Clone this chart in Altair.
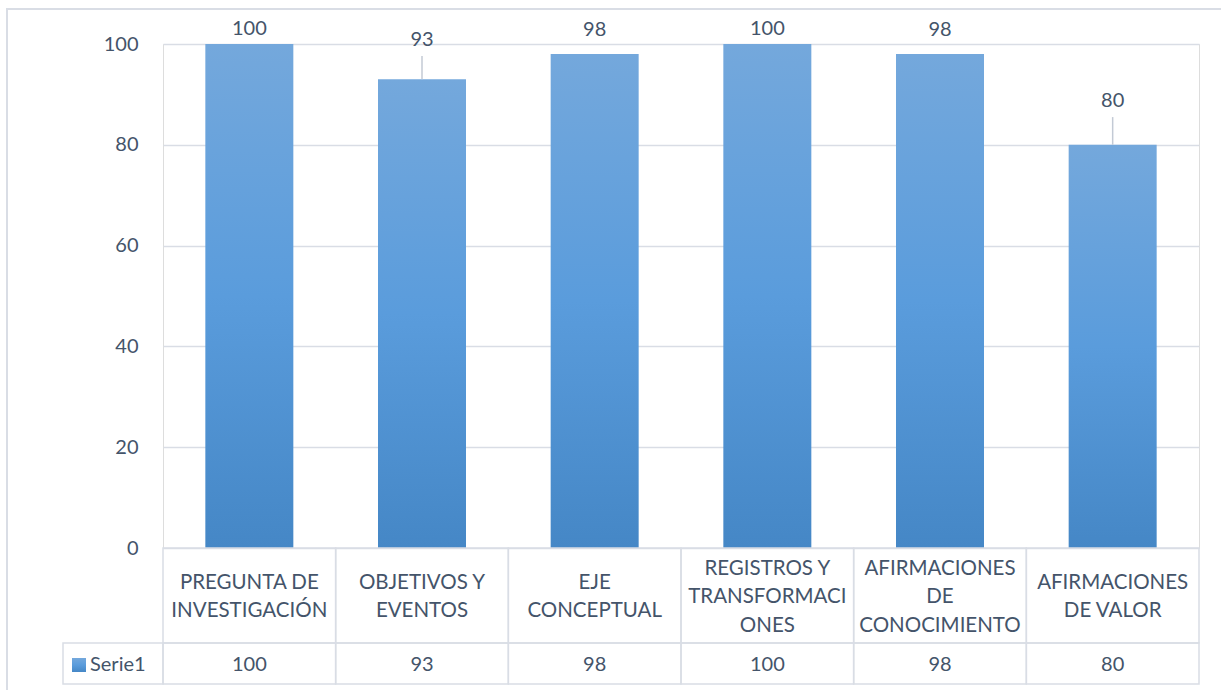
import altair as alt
import pandas as pd

# Chart values
categories = [
    "PREGUNTA DE\nINVESTIGACIÓN",
    "OBJETIVOS Y\nEVENTOS",
    "EJE\nCONCEPTUAL",
    "REGISTROS Y\nTRANSFORMACI\nONES",
    "AFIRMACIONES\nDE\nCONOCIMIENTO",
    "AFIRMACIONES\nDE VALOR",
]
values = [100, 93, 98, 100, 98, 80]
series_name = "Serie1"

# Layout: how far (in axis units) each data label sits above its bar
label_lift = [3.0, 7.8, 4.8, 3.0, 4.8, 8.7]

df = pd.DataFrame({
    "cat": categories,
    "value": values,
    "lift": label_lift,
})

W, H = 1036, 504
STEP = W / len(categories)
BAR_W = 88
FONT = "Lato"
TEXT = "#44546a"
LINE = "#d9dde5"
HEAD_MID = H + 49      # vertical centre of the header row
HEAD_LH = 28.5         # header line height

bar_fill = alt.Gradient(
    gradient="linear",
    stops=[
        alt.GradientStop(color="#74a8dc", offset=0),
        alt.GradientStop(color="#5a9cdc", offset=0.5),
        alt.GradientStop(color="#4587c6", offset=1),
    ],
    x1=0, x2=0, y1=0, y2=1,
)

pin = 1 - BAR_W / STEP
x_enc = alt.X(
    "cat:N",
    sort=categories,
    scale=alt.Scale(paddingInner=pin, paddingOuter=pin / 2),
    axis=None,
)
y_scale = alt.Scale(domain=[0, 100], nice=False)

base = alt.Chart(df)

# outer frame of the chart area
frame = base.mark_rect(fill=None, stroke=LINE, strokeWidth=1.5).encode(
    x=alt.value(-156), x2=alt.value(W + 80),
    y=alt.value(-35), y2=alt.value(H + 200),
)

bars = base.mark_bar(color=bar_fill).encode(
    x=x_enc,
    y=alt.Y(
        "value:Q",
        scale=y_scale,
        axis=alt.Axis(
            values=[0, 20, 40, 60, 80, 100],
            title=None,
            domain=False,
            ticks=False,
            labelPadding=25,
            labelFont=FONT,
            labelFontSize=20,
            labelColor=TEXT,
            gridColor=LINE,
            gridWidth=1.5,
        ),
    ),
)

# data table: header row with category names
head_cells = base.mark_bar(width=STEP, fill="white", fillOpacity=0,
                           stroke=LINE, strokeWidth=1.5).encode(
    x=x_enc, y=alt.value(H), y2=alt.value(H + 95),
)
head_text = base.transform_calculate(
    nlines="length(split(datum.cat, '\\n'))"
).transform_calculate(
    ty=f"{HEAD_MID} - (datum.nlines - 1) * {HEAD_LH / 2}"
).mark_text(lineBreak="\n", baseline="middle", font=FONT,
            fontSize=20.5, color=TEXT, lineHeight=HEAD_LH).encode(
    x=x_enc, y=alt.Y("ty:Q", scale=None), text="cat:N",
)

# data table: value row
val_cells = base.mark_bar(width=STEP, fill="white", fillOpacity=0,
                          stroke=LINE, strokeWidth=1.5).encode(
    x=x_enc, y=alt.value(H + 95), y2=alt.value(H + 136),
)
val_text = base.mark_text(baseline="middle", font=FONT, fontSize=20,
                          color=TEXT).encode(
    x=x_enc, y=alt.value(H + 117), text="value:Q",
)

# series cell with legend key
legend_df = pd.DataFrame({"name": [series_name]})
lbase = alt.Chart(legend_df)
ser_cell = lbase.mark_rect(fill="white", fillOpacity=0, stroke=LINE,
                           strokeWidth=1.5).encode(
    x=alt.value(-100), x2=alt.value(0),
    y=alt.value(H + 95), y2=alt.value(H + 136),
)
ser_key = lbase.mark_rect(color=bar_fill).encode(
    x=alt.value(-91), x2=alt.value(-77),
    y=alt.value(H + 110), y2=alt.value(H + 124),
)
ser_text = lbase.mark_text(align="left", baseline="middle", font=FONT,
                           fontSize=20, color=TEXT).encode(
    x=alt.value(-73), y=alt.value(H + 117), text="name:N",
)

# data labels and leader lines
labels = base.transform_calculate(
    label_pos="datum.value + datum.lift"
).mark_text(baseline="middle", font=FONT, fontSize=20, color=TEXT).encode(
    x=x_enc,
    y=alt.Y("label_pos:Q", scale=y_scale),
    text="value:Q",
)
leaders = base.transform_filter("datum.lift > 6").transform_calculate(
    lead_top="datum.value + datum.lift - 3.2"
).mark_rule(color="#c3cad5", strokeWidth=1.5).encode(
    x=x_enc,
    y=alt.Y("value:Q", scale=y_scale),
    y2="lead_top:Q",
)

chart = alt.layer(
    frame, bars, head_cells, head_text, val_cells, val_text,
    ser_cell, ser_key, ser_text, leaders, labels,
).properties(
    width=W, height=H,
    autosize=alt.AutoSizeParams(type="none"),
    padding={"left": 163, "top": 44, "right": 22, "bottom": 142},
).configure_view(stroke=None).configure(background="white")

chart.save("out.html", embed_options={"renderer": "svg", "actions": False})
